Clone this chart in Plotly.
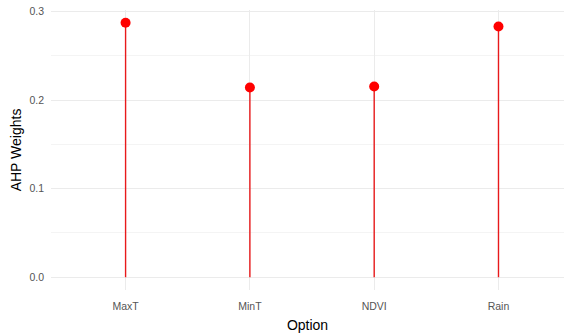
import plotly.graph_objects as go

options = ["MaxT", "MinT", "NDVI", "Rain"]
weights = [0.2873, 0.2142, 0.2153, 0.2831]

xs = list(range(1, len(options) + 1))
stem_x, stem_y = [], []
for x, w in zip(xs, weights):
    stem_x += [x, x, None]
    stem_y += [0, w, None]

fig = go.Figure()
fig.add_trace(go.Scatter(x=stem_x, y=stem_y, mode="lines",
                         line=dict(color="#E8191B", width=1.4),
                         hoverinfo="skip", showlegend=False))
fig.add_trace(go.Scatter(x=xs, y=weights, mode="markers",
                         marker=dict(color="#FF0000", size=10),
                         showlegend=False))

font = "Liberation Sans, Arial, sans-serif"
fig.update_layout(
    width=564, height=334,
    margin=dict(l=51, r=0, t=9.5, b=43.5, autoexpand=False),
    paper_bgcolor="white", plot_bgcolor="white",
    font=dict(family=font, color="#4D4D4D", size=11),
    xaxis=dict(range=[0.4, 4.527], tickmode="array", tickvals=xs, ticktext=options,
               showgrid=True, gridcolor="#EBEBEB", gridwidth=1, zeroline=False,
               showline=False, ticks="", ticklabelstandoff=8, automargin=False,
               tickfont=dict(size=10.5, color="#555555"),
               title=dict(text="Option", font=dict(size=14, color="black"), standoff=9)),
    yaxis=dict(range=[-0.0144, 0.3017], tickmode="linear", tick0=0, dtick=0.1,
               tickformat=".1f", showgrid=True, gridcolor="#EBEBEB", gridwidth=1,
               zeroline=False, showline=False, ticks="", ticklabelstandoff=6, automargin=False,
               minor=dict(dtick=0.05, tick0=0, showgrid=True, gridcolor="#F4F4F4", gridwidth=1),
               tickfont=dict(size=10.5, color="#555555"),
               title=dict(text="AHP Weights", font=dict(size=14, color="black"), standoff=4)),
)
fig.write_html("out.html", config={"displayModeBar": False},
               post_script="document.body.style.margin='0';document.body.style.padding='0';")
